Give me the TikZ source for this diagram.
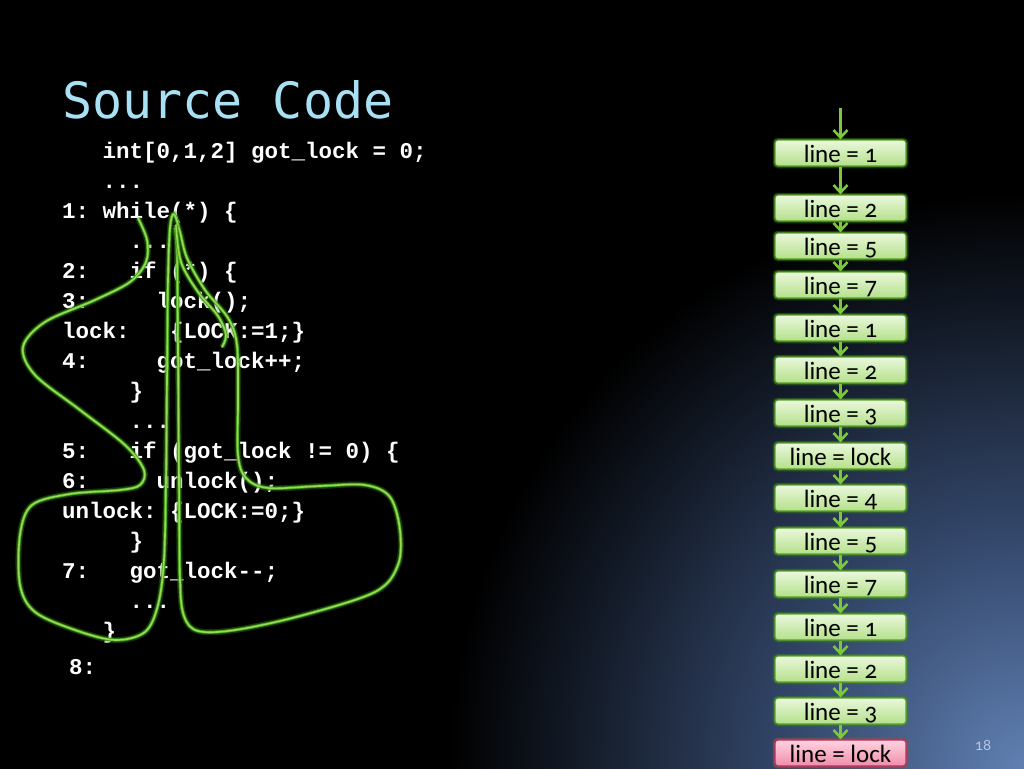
\documentclass[tikz,border=0pt]{standalone}
\usepackage{fontspec}
\setmainfont[Numbers=OldStyle]{Carlito}
\setmonofont{Liberation Mono}
\newfontfamily\titlefont{DejaVu Sans Mono}
\usetikzlibrary{arrows.meta}

\definecolor{slideblue}{HTML}{6080B2}
\definecolor{slidemid}{HTML}{34486C}
\definecolor{titleblue}{HTML}{A8E0F4}
\definecolor{traceGreen}{HTML}{98DA58}
\definecolor{traceDark}{HTML}{3E9A18}
\definecolor{boxEdge}{HTML}{5AA426}
\definecolor{boxGlow}{HTML}{3C8C14}
\definecolor{boxTop}{HTML}{EAF8DC}
\definecolor{boxBot}{HTML}{B4E08A}
\definecolor{pinkTop}{HTML}{FFD4E0}
\definecolor{pinkBot}{HTML}{F08CAA}
\definecolor{pinkEdge}{HTML}{C22A68}
\definecolor{arrowGreen}{HTML}{7CC83C}
\definecolor{numgrey}{HTML}{B4C4E0}

\pgfdeclareradialshading{cornerglow}{\pgfpoint{0bp}{0bp}}{color(0bp)=(slideblue); color(8bp)=(slidemid); color(20bp)=(black); color(25bp)=(black); color(50bp)=(black)}

\tikzset{
  code/.style={anchor=base west, inner sep=0pt, text=white,
    font=\ttfamily\bfseries\fontsize{22.5}{27}\selectfont},
  trace/.style={draw=traceGreen, line width=1.6pt, line cap=round, line join=round,
    preaction={draw=traceDark, line width=6pt, opacity=0.35},
    preaction={draw=traceDark, line width=3.2pt}},
  state/.style={rectangle, rounded corners=3pt, draw=boxEdge, line width=1.2pt,
    top color=boxTop, bottom color=boxBot, minimum width=131pt, minimum height=26pt,
    inner sep=0pt, text height=20pt, text depth=1pt, text=black,
    font=\fontsize{25}{29}\selectfont,
    preaction={draw=boxGlow, line width=4.5pt, opacity=0.45}},
  errstate/.style={state, draw=pinkEdge, top color=pinkTop, bottom color=pinkBot,
    preaction={draw=pinkEdge, line width=4.5pt, opacity=0.4}},
  flow/.style={draw=arrowGreen, line width=2.6pt,
    -{Straight Barb[length=7.5pt, width=14pt, line width=2.6pt]}}
}

\begin{document}
\begin{tikzpicture}[x=1pt, y=-1pt]
		%%%%% BACKGROUND %%%%%
		\useasboundingbox (0, 0) rectangle (1024, 768);
		\fill[black] (-4, -4) rectangle (1028, 772);
		\begin{scope}
			\clip (-4, -4) rectangle (1028, 772);
			\shade[shading=cornerglow] (1024, 768) circle (720);
		\end{scope}
		
		\node[anchor=base west, inner sep=0pt, text=titleblue, font=\titlefont\fontsize{50}{56}\selectfont] (title) at (62, 118) {Source Code};
		
		%%%%% SOURCE %%%%%
		\node[code] (c0) at (102.5, 158.5) {int[0,1,2] got\_lock = 0;};
		\node[code] (c1) at (102.5, 188.5) {...};
		\node[code] (c2) at (62, 218.5) {1: while(*) \{};
		\node[code] (c3) at (129.5, 248.5) {...};
		\node[code] (c4) at (62, 278.5) {2:\ \ \ if (*) \{};
		\node[code] (c5) at (62, 308.5) {3:\ \ \ \ \ lock();};
		\node[code] (c6) at (62, 338.5) {lock:\ \ \ \{LOCK:=1;\}};
		\node[code] (c7) at (62, 368.5) {4:\ \ \ \ \ got\_lock++;};
		\node[code] (c8) at (129.5, 398.5) {\}};
		\node[code] (c9) at (129.5, 428.5) {...};
		\node[code] (c10) at (62, 458.5) {5:\ \ \ if (got\_lock != 0) \{};
		\node[code] (c11) at (62, 488.5) {6:\ \ \ \ \ unlock();};
		\node[code] (c12) at (62, 518.5) {unlock: \{LOCK:=0;\}};
		\node[code] (c13) at (129.5, 548.5) {\}};
		\node[code] (c14) at (62, 578.5) {7:\ \ \ got\_lock--;};
		\node[code] (c15) at (129.5, 608.5) {...};
		\node[code] (c16) at (102.5, 638.5) {\}};
		\node[code] (c17) at (69, 674.5) {8:};
		
		%%%%% TRACE %%%%%
		\draw[trace] plot[smooth, tension=0.55] coordinates {
			(138,218) (147,240) (146,262) (130,282) (95,300) (45,322) (23,347)
			(35,375) (80,410) (125,445) (144,470) (140,485) (120,490) (70,494)
			(32,505) (20,535) (20,585) (35,612) (75,630) (115,640) (145,632)
			(158,605) (164,560) (166,480) (167,380) (168,280) (170,228) (174,214)
			(180,232) (187,258) (205,290) (228,318) (237,345) (238,400) (238,455)
			(246,478) (268,488) (320,486) (365,485) (390,497) (400,530) (398,565)
			(375,592) (300,616) (235,630) (198,631) (184,616) (180,580) (179,480)
			(178,350) (177,250) (175,228)};
		\draw[trace] plot[smooth, tension=0.55] coordinates {
			(176,225) (181,262) (198,292) (218,316) (226,335) (222,347)};
		
		%%%%% STATES %%%%%
		\coordinate (entry) at (840.5, 108);
		\node[state] (s1) at (840.5, 153) {line = 1};
		\node[state] (s2) at (840.5, 208) {line = 2};
		\node[state] (s3) at (840.5, 246) {line = 5};
		\node[state] (s4) at (840.5, 285) {line = 7};
		\node[state] (s5) at (840.5, 328) {line = 1};
		\node[state] (s6) at (840.5, 370) {line = 2};
		\node[state] (s7) at (840.5, 413) {line = 3};
		\node[state] (s8) at (840.5, 456) {line = lock};
		\node[state] (s9) at (840.5, 498) {line = 4};
		\node[state] (s10) at (840.5, 541) {line = 5};
		\node[state] (s11) at (840.5, 584) {line = 7};
		\node[state] (s12) at (840.5, 627) {line = 1};
		\node[state] (s13) at (840.5, 669) {line = 2};
		\node[state] (s14) at (840.5, 711) {line = 3};
		\node[errstate] (s15) at (840.5, 753) {line = lock};
		
		\draw[flow] (entry) -- (s1);
		\draw[flow] (s1) -- (s2);
		\draw[flow] (s2) -- (s3);
		\draw[flow] (s3) -- (s4);
		\draw[flow] (s4) -- (s5);
		\draw[flow] (s5) -- (s6);
		\draw[flow] (s6) -- (s7);
		\draw[flow] (s7) -- (s8);
		\draw[flow] (s8) -- (s9);
		\draw[flow] (s9) -- (s10);
		\draw[flow] (s10) -- (s11);
		\draw[flow] (s11) -- (s12);
		\draw[flow] (s12) -- (s13);
		\draw[flow] (s13) -- (s14);
		\draw[flow] (s14) -- (s15);
		
		\node[text=numgrey, font=\fontsize{16}{18}\selectfont] (page) at (983, 745) {18};
	\end{tikzpicture}
\end{document}
